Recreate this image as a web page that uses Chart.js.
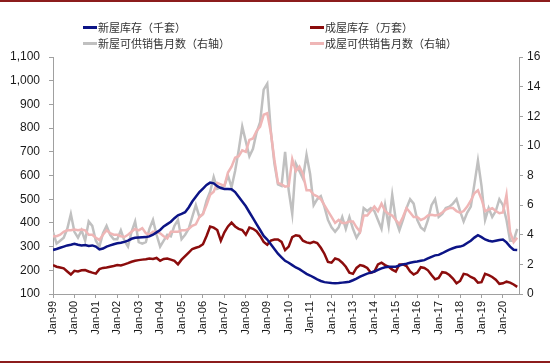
<!DOCTYPE html>
<html>
<head>
<meta charset="utf-8">
<script src="https://cdn.jsdelivr.net/npm/chart.js@4/dist/chart.umd.min.js"></script>
<style>
body { margin: 0; background: #fff; }
#wrap { position: relative; width: 550px; height: 364px; overflow: hidden; }
#c { position: absolute; left: 0; top: 0; }
.rule { position: absolute; left: 0; width: 550px; height: 2px; background: #8c1c1c; }
#legend { position: absolute; left: 83px; top: 19px; display: grid; grid-template-columns: 227px 227px;
  font: 11px "Noto Sans CJK SC", sans-serif; color: #333; }
.item { display: flex; align-items: center; height: 16px; white-space: nowrap; }
.mark { width: 14px; height: 3px; margin-right: 1px; }
</style>
</head>
<body>
<div id="wrap">
  <div class="rule" style="top:0"></div>
  <canvas id="c" width="550" height="364"></canvas>
  <div id="legend"></div>
  <div class="rule" style="top:361px"></div>
</div>
<script>
// one value every 2 months, starting Jan-99
const startYear = 1999;
const monthStep = 2;

// 新屋库存（千套） – left axis
const newInventory = [
  286, 290, 295, 300, 305, 308,
  312, 308, 305, 307, 303, 305,
  300, 288, 292, 300, 305, 310,
  314, 316, 320, 325, 333, 337,
  338, 339, 340, 343, 350, 360,
  370, 385, 395, 405, 420, 432,
  438, 445, 465, 490, 510, 530,
  545, 560, 570, 567, 555, 547,
  543, 543, 542, 530, 510, 490,
  470, 445, 420, 395, 370, 345,
  330, 310, 290, 270, 255, 240,
  232, 222, 212, 205, 195, 185,
  178, 170, 162, 155, 150, 148,
  146, 145, 146, 148, 150, 152,
  158, 165, 173, 180, 186, 190,
  195, 202, 208, 213, 215, 215,
  215, 220, 225, 228, 232, 235,
  237, 240, 243, 250, 257, 263,
  265, 272, 280, 287, 293, 298,
  300, 305, 315, 325, 338, 348,
  340, 330, 325, 322, 325, 328,
  330, 318, 300, 287, 286
];

// 成屋库存（万套） – left axis
const existingInventory = [
  222, 215, 212, 208, 195, 182,
  198, 195, 200, 201, 195, 190,
  186, 205, 210, 212, 215, 218,
  222, 220, 225, 230, 236, 240,
  243, 245, 247, 250, 248, 252,
  240, 248, 250, 245, 240, 225,
  245, 260, 275, 290, 295, 300,
  310, 345, 385, 380, 370, 325,
  360, 385, 401, 385, 375, 370,
  350, 380, 375, 365, 345, 320,
  308, 325, 330, 330, 320, 285,
  300, 340, 348, 345, 325, 318,
  314, 320, 315, 295, 270, 235,
  232, 250, 245, 232, 215, 190,
  185, 210, 222, 218, 210, 190,
  195, 225, 232, 222, 215, 203,
  195, 225, 225, 218, 195, 182,
  190, 213, 210, 200, 180, 162,
  168, 192, 190, 180, 165, 145,
  155, 185, 182, 172, 165, 148,
  150, 185, 180, 172, 160, 143,
  145, 152, 148, 140, 130
];

// 新屋可供销售月数（右轴）
const newMonthsSupply = [
  4.2, 3.4, 3.6, 3.8, 4.4, 5.4,
  4.2, 3.8, 4.3, 3.6, 4.9, 4.6,
  3.6, 3.2, 4.1, 4.6, 4.0, 3.7,
  3.7, 4.3, 3.6, 3.2, 4.2, 4.9,
  3.5, 3.4, 3.5, 4.4, 5.0, 4.0,
  3.2, 3.6, 4.0, 3.9, 4.6, 5.0,
  3.7, 4.0, 4.4, 5.2, 6.0, 5.2,
  5.4, 6.3, 6.9, 7.9, 7.1, 7.2,
  7.3, 8.0, 7.2, 8.3, 9.7, 11.3,
  10.3, 9.3, 9.8, 10.9, 11.6, 13.8,
  14.2, 11.0, 8.8, 7.4, 7.3, 9.6,
  7.0, 5.4, 8.8, 8.3, 7.8, 9.4,
  8.1, 6.0, 6.4, 6.6, 5.9, 5.0,
  4.5, 4.2, 4.5, 5.2, 4.4, 5.2,
  4.4, 3.8, 4.2, 5.8, 5.6, 5.8,
  5.6, 5.0, 4.4, 6.0, 4.6, 6.7,
  5.0, 4.3, 5.0, 5.8, 6.4, 6.1,
  5.0, 4.5, 4.3, 5.0, 6.0, 6.4,
  5.2, 5.4, 5.8, 5.9, 6.1, 6.4,
  5.6, 4.9, 5.5, 5.9, 7.4, 9.0,
  7.3, 5.0, 5.8, 5.2, 5.6, 6.4,
  6.0, 5.0, 3.6, 3.6, 4.4
];

// 成屋可供销售月数（右轴）
const existingMonthsSupply = [
  3.9, 3.9, 4.0, 4.2, 4.3, 4.3,
  4.35, 4.3, 4.35, 4.3, 4.0, 4.0,
  3.8, 3.65, 4.0, 4.3, 4.1, 4.0,
  4.0, 3.9, 3.85, 4.0, 4.2, 4.4,
  4.3, 4.45, 4.1, 4.0, 4.2, 4.2,
  4.1, 3.9, 3.75, 4.2, 4.2, 4.2,
  4.3, 4.3, 4.4, 4.6, 4.7, 5.2,
  5.4, 6.0, 6.7, 6.9, 7.5, 7.4,
  7.3, 8.2, 8.6, 9.2, 9.3, 9.7,
  9.6, 10.4, 10.5, 11.0, 11.3, 12.1,
  12.2, 10.9, 9.05, 7.5, 7.4, 7.25,
  7.3, 9.1, 8.3, 8.6, 8.1, 7.0,
  7.0, 6.7, 6.6, 6.4, 6.0, 5.6,
  5.2, 4.8, 5.0, 4.8, 4.8, 4.9,
  4.9, 4.5, 4.2, 5.3, 5.3, 5.6,
  5.9, 5.6, 6.1, 5.6, 5.4, 5.3,
  5.0, 4.7, 5.2, 5.8, 5.5, 5.2,
  5.2, 5.0, 5.1, 5.3, 5.35, 5.3,
  5.35, 5.5, 5.7, 5.8, 5.8, 5.6,
  5.5, 5.6, 5.9, 6.3, 6.8, 7.0,
  6.4, 5.6, 5.7, 5.8, 5.6, 5.45,
  5.5, 6.7, 4.2, 3.5, 3.8
];

const leftTicks = [100, 1100, 100];   // min, max, step
const rightTicks = [0, 16, 2];

function toPoints(arr) {
  return arr.map((v, i) => ({ x: i * monthStep, y: v }));
}

const series = [
  { label: '新屋库存（千套）', data: newInventory, color: '#0c1486', axis: 'y', order: 0 },
  { label: '成屋库存（万套）', data: existingInventory, color: '#8b0c0c', axis: 'y', order: 1 },
  { label: '新屋可供销售月数（右轴）', data: newMonthsSupply, color: '#c0c0c0', axis: 'y1', order: 3 },
  { label: '成屋可供销售月数（右轴）', data: existingMonthsSupply, color: '#efb6b6', axis: 'y1', order: 2 }
];

const tickFont = { family: 'Liberation Sans, Arial', size: 12 };
const axisGrey = '#a0a0a0';

const chart = new Chart(document.getElementById('c'), {
  type: 'line',
  data: {
    datasets: series.map(s => ({
      label: s.label,
      data: toPoints(s.data),
      borderColor: s.color,
      backgroundColor: s.color,
      borderWidth: 2.5,
      pointRadius: 0,
      tension: 0,
      fill: false,
      yAxisID: s.axis,
      order: s.order
    }))
  },
  options: {
    responsive: false,
    animation: false,
    layout: { padding: { top: 57, left: 0, right: 0, bottom: 0 } },
    plugins: { legend: { display: false }, tooltip: { enabled: false } },
    scales: {
      x: {
        type: 'linear',
        min: 0,
        max: 261,
        afterFit: s => { s.height = 70; },
        border: { color: axisGrey },
        grid: { drawOnChartArea: false, color: axisGrey, tickLength: 4 },
        ticks: {
          stepSize: 12,
          includeBounds: false,
          minRotation: 90,
          maxRotation: 90,
          padding: 3,
          color: '#1a1a1a',
          font: { family: 'Liberation Sans, Arial', size: 11 },
          callback: v => 'Jan-' + String((startYear + v / 12) % 100).padStart(2, '0')
        }
      },
      y: {
        position: 'left',
        min: leftTicks[0],
        max: leftTicks[1],
        afterFit: s => { s.width = 53; },
        border: { color: axisGrey },
        grid: { drawOnChartArea: false, color: axisGrey, tickLength: 4 },
        ticks: {
          stepSize: leftTicks[2],
          padding: 9,
          color: '#1a1a1a',
          font: tickFont,
          callback: v => v.toLocaleString('en-US')
        }
      },
      y1: {
        position: 'right',
        min: rightTicks[0],
        max: rightTicks[1],
        afterFit: s => { s.width = 31; },
        border: { color: axisGrey },
        grid: { drawOnChartArea: false, color: axisGrey, tickLength: 4 },
        ticks: {
          stepSize: rightTicks[2],
          padding: 4,
          color: '#1a1a1a',
          font: tickFont
        }
      }
    }
  }
});

// legend in two columns, like the report
const legend = document.getElementById('legend');
chart.data.datasets.forEach(ds => {
  const item = document.createElement('div');
  item.className = 'item';
  const mark = document.createElement('span');
  mark.className = 'mark';
  mark.style.background = ds.borderColor;
  const txt = document.createElement('span');
  txt.textContent = ds.label;
  item.appendChild(mark);
  item.appendChild(txt);
  legend.appendChild(item);
});
</script>
</body>
</html>
